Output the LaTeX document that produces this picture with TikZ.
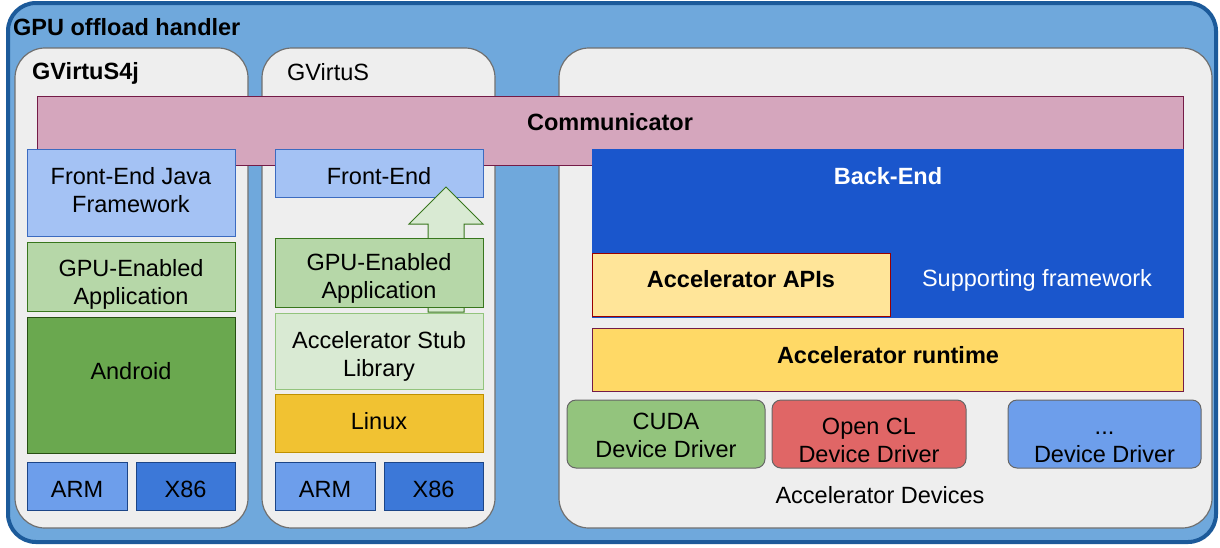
\documentclass[tikz,border=0pt]{standalone}
\usepackage{fontspec}
\setmainfont{Liberation Sans}
\definecolor{outerfill}{HTML}{6FA8DC}
\definecolor{outerline}{HTML}{1C5A9A}
\definecolor{panel}{HTML}{EEEEEE}
\definecolor{panelline}{HTML}{707070}
\definecolor{comm}{HTML}{D5A6BD}
\definecolor{commline}{HTML}{741B47}
\definecolor{fe}{HTML}{A4C2F4}
\definecolor{feline}{HTML}{3C6BC0}
\definecolor{gpu}{HTML}{B6D7A8}
\definecolor{gpuline}{HTML}{38761D}
\definecolor{android}{HTML}{6AA84F}
\definecolor{androidline}{HTML}{274E13}
\definecolor{stub}{HTML}{D9EAD3}
\definecolor{stubline}{HTML}{93C47D}
\definecolor{linux}{HTML}{F1C232}
\definecolor{linuxline}{HTML}{BF9000}
\definecolor{arm}{HTML}{6D9EEB}
\definecolor{x86}{HTML}{3C78D8}
\definecolor{archline}{HTML}{1C4587}
\definecolor{backend}{HTML}{1A56CC}
\definecolor{apis}{HTML}{FFE599}
\definecolor{apisline}{HTML}{990000}
\definecolor{runtime}{HTML}{FFD966}
\definecolor{cuda}{HTML}{93C47D}
\definecolor{opencl}{HTML}{E06666}
\definecolor{other}{HTML}{6D9EEB}
\definecolor{drvline}{HTML}{666666}
% \bx{name}{x1}{y1}{x2}{y2}{style}
\newcommand\bx[6]{\node[box,#6,anchor=north west,minimum width={(#4-#2)*1pt},minimum height={(#5-#3)*1pt}] (#1) at (#2,#3) {};}
\begin{document}
\begin{tikzpicture}[x=1pt,y=-1pt,
  box/.style={rectangle,draw,line width=1pt,inner sep=0pt,outer sep=0pt},
  panelbox/.style={fill=panel,draw=panelline,line width=1.2pt,rounded corners=30pt},
  drvbox/.style={draw=drvline,line width=1pt,rounded corners=9pt},
  txt/.style={font=\fontsize{23.5}{28}\selectfont,inner sep=0pt,align=center},
  btxt/.style={txt,font=\fontsize{23.5}{28}\selectfont\bfseries}]
\useasboundingbox[fill=white] (0,0) rectangle (1220,547);
% outer frame
\bx{outer}{8}{3}{1216}{542}{fill=outerfill,draw=outerline,line width=4pt,rounded corners=28pt}
\node[btxt,anchor=base west] (tOuter) at (13,35) {GPU offload handler};
% panels
\bx{pA}{15}{48}{248}{528}{panelbox}
\bx{pB}{262}{48}{495}{528}{panelbox}
\bx{pC}{559}{48}{1212}{528}{panelbox}
\node[btxt,anchor=base west] (tA) at (32,79) {GVirtuS4j};
\node[txt,anchor=base west] (tB) at (287,80) {GVirtuS};
% communicator
\bx{comm}{37}{96}{1183}{165}{fill=comm,draw=commline}
\node[btxt,anchor=base] (tComm) at (610,130) {Communicator};
% left column
\bx{feA}{27}{149}{235}{236}{fill=fe,draw=feline}
\node[txt] (tfeA) at (131,192.4) {\strut Front-End Java\\\strut Framework};
\bx{gpuA}{27}{242}{235}{311}{fill=gpu,draw=gpuline}
\node[txt] (tgpuA) at (131,284.4) {\strut GPU-Enabled\\\strut Application};
\bx{andA}{27}{317}{235}{453}{fill=android,draw=androidline}
\node[txt,anchor=base] (tandA) at (131,379) {Android};
\bx{armA}{27}{462}{127}{510}{fill=arm,draw=archline}
\node[txt,anchor=base] (tarmA) at (77,497) {ARM};
\bx{x86A}{136}{462}{235}{510}{fill=x86,draw=archline}
\node[txt,anchor=base] (tx86A) at (185.5,497) {X86};
% middle column
\bx{feB}{275}{149}{483}{197}{fill=fe,draw=feline}
\node[txt,anchor=base] (tfeB) at (379,184) {Front-End};
\draw[fill=stub,draw=gpuline,line width=1pt]
  (428,312) -- (428,224) -- (409,224) -- (446,187) -- (483,224) -- (464,224) -- (464,312) -- cycle;
\bx{gpuB}{275}{238}{483}{307}{fill=gpu,draw=gpuline}
\node[txt] (tgpuB) at (379,278.9) {\strut GPU-Enabled\\\strut Application};
\bx{stubB}{275}{313}{483}{389}{fill=stub,draw=stubline}
\node[txt] (tstubB) at (379,356.4) {\strut Accelerator Stub\\\strut Library};
\bx{linB}{275}{394}{483}{452}{fill=linux,draw=linuxline}
\node[txt,anchor=base] (tlinB) at (379,429) {Linux};
\bx{armB}{275}{462}{375}{510}{fill=arm,draw=archline}
\node[txt,anchor=base] (tarmB) at (325,497) {ARM};
\bx{x86B}{384}{462}{483}{510}{fill=x86,draw=archline}
\node[txt,anchor=base] (tx86B) at (433.5,497) {X86};
% right column
\bx{back}{592}{149}{1183}{317}{fill=backend,draw=backend}
\node[btxt,anchor=base,text=white] (tback) at (888,184) {Back-End};
\bx{apis}{592}{253}{890}{316}{fill=apis,draw=apisline,line width=0.8pt}
\node[btxt,anchor=base] (tapis) at (741,287) {Accelerator APIs};
\node[txt,anchor=base,text=white] (tsupp) at (1037,286) {Supporting framework};
\bx{rt}{592}{328}{1183}{391}{fill=runtime,draw=commline,line width=0.8pt}
\node[btxt,anchor=base] (trt) at (888,363) {Accelerator runtime};
\bx{cuda}{567}{400}{765}{468}{fill=cuda,drvbox}
\node[txt] (tcuda) at (666,437.4) {\strut CUDA\\\strut Device Driver};
\bx{ocl}{772}{400}{966}{468}{fill=opencl,drvbox}
\node[txt] (tocl) at (869,442.9) {\strut Open CL\\\strut Device Driver};
\bx{oth}{1008}{400}{1201}{468}{fill=other,drvbox}
\node[txt] (toth) at (1104.5,442.9) {\strut ...\\\strut Device Driver};
\node[txt,anchor=base] (tdev) at (880,503) {Accelerator Devices};
\end{tikzpicture}
\end{document}
